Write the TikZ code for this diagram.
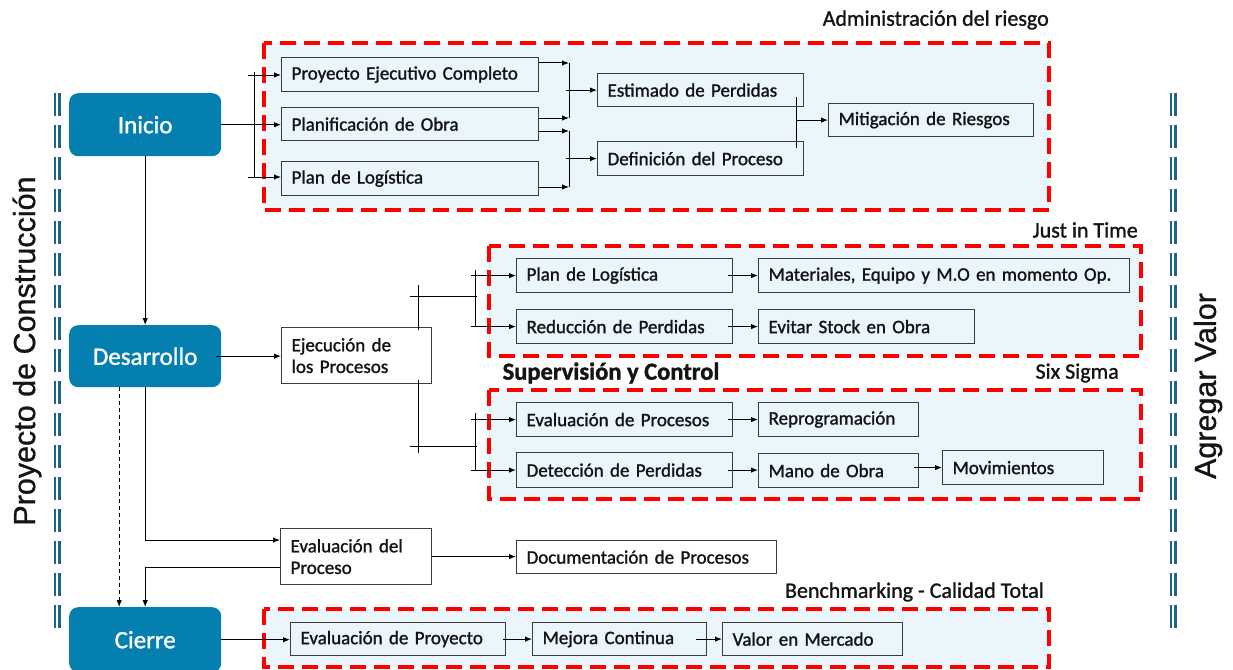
\documentclass[tikz,border=0pt]{standalone}
\usepackage{fontspec}
\setmainfont{Carlito}[FakeBold=1.3]
\newfontfamily\arialf{Liberation Sans}[FakeBold=0.9]
\usetikzlibrary{arrows.meta}

\definecolor{phase}{RGB}{4,127,175}
\definecolor{zone}{RGB}{234,246,252}
\definecolor{edge}{RGB}{60,60,60}
\definecolor{ink}{RGB}{20,20,20}
\definecolor{rail}{RGB}{30,100,135}

% box from (x1,y1) to (x2,y2), text set flush left
\newcommand{\boxat}[7]{%
  \pgfmathsetmacro\bw{#4-#2}%
  \pgfmathsetmacro\bh{#5-#3}%
  \pgfmathsetmacro\tw{#4-#2-20}%
  \node[#1, anchor=north west, minimum width=\bw pt, minimum height=\bh pt,
        text width=\tw pt] (#6) at (#2,#3) {#7};}

\tikzset{
  bx/.style={draw=edge, line width=1.2pt, inner xsep=10pt, inner ysep=2pt,
             align=left, font=\fontsize{19}{21.6}\selectfont, text=ink},
  wbx/.style={bx, fill=white},
  phasebox/.style={fill=phase, rounded corners=9pt, text=white,
             font=\fontsize{25}{28}\selectfont, inner sep=0pt},
  zonebox/.style={draw=red, fill=zone, line width=4pt, dash pattern=on 16pt off 8pt},
  lbl/.style={inner sep=0pt, text=ink, font=\fontsize{22}{26}\selectfont},
  conn/.style={draw=black, line width=1pt},
  arr/.style={conn, -{Latex[length=7pt,width=5.5pt]}},
  railline/.style={draw=rail, dash pattern=on 23pt off 9pt},
  sidetext/.style={rotate=90, inner sep=0pt, text=ink,
             font=\arialf\fontsize{30.5}{34}\selectfont},
}

\begin{document}
\begin{tikzpicture}[x=1pt,y=-1pt]
\useasboundingbox (0,0) rectangle (1233,669);
\clip (0,0) rectangle (1233,669);

% dashed side rails
\draw[railline, line width=2.2pt] (55,93) -- (55,632);
\draw[railline, line width=3pt] (59.5,93) -- (59.5,632);
\draw[railline, line width=2.2pt] (1171,93) -- (1171,632);
\draw[railline, line width=3pt] (1175.5,93) -- (1175.5,632);

\node[sidetext] (tPro) at (27,351) {Proyecto de Construcción};
\node[sidetext] (tAgr) at (1208,386) {Agregar Valor};

% red dashed zones
\draw[zonebox] (264,43) rectangle (1049,210);
\draw[zonebox] (489,246) rectangle (1141,356);
\draw[zonebox] (489,390) rectangle (1141,499);
\draw[zonebox] (264,609) rectangle (1049,667);

\node[lbl, anchor=east] (tAdm) at (1049,20) {Administración del riesgo};
\node[lbl, anchor=east] (tJit) at (1138,230) {Just in Time};
\node[lbl, anchor=east] (tSix) at (1119,373) {Six Sigma};
\node[lbl, anchor=east] (tBen) at (1044,592) {Benchmarking - Calidad Total};
\node[inner sep=0pt, text=ink, font=\bfseries\fontsize{24.5}{28}\selectfont]
  (tSup) at (611,373) {Supervisión y Control};

% phases
\node[phasebox, anchor=north west, minimum width=152pt, minimum height=63pt]
  (inicio) at (69,93) {Inicio};
\node[phasebox, anchor=north west, minimum width=152pt, minimum height=62pt]
  (desarrollo) at (69,325) {Desarrollo};
\node[phasebox, anchor=north west, minimum width=152pt, minimum height=65pt]
  (cierre) at (69,607) {Cierre};

% risk administration
\boxat{bx}{281}{57}{538}{91}{pec}{Proyecto Ejecutivo Completo}
\boxat{bx}{281}{107}{538}{140}{plan}{Planificación de Obra}
\boxat{bx}{281}{161}{538}{195}{plog}{Plan de Logística}
\boxat{bx}{597}{73}{803}{106}{est}{Estimado de Perdidas}
\boxat{bx}{597}{141}{803}{175}{defp}{Definición del Proceso}
\boxat{bx}{828}{103}{1033}{136}{mit}{Mitigación de Riesgos}

% just in time
\boxat{bx}{516}{258}{732}{292}{jpl}{Plan de Logística}
\boxat{bx}{516}{309}{732}{343}{jred}{Reducción de Perdidas}
\boxat{bx}{758}{258}{1129}{292}{jmat}{Materiales, Equipo y M.O en momento Op.}
\boxat{bx}{758}{309}{974}{343}{jevi}{Evitar Stock en Obra}

% six sigma
\boxat{bx}{516}{402}{732}{436}{sev}{Evaluación de Procesos}
\boxat{bx}{516}{452}{732}{487}{sdet}{Detección de Perdidas}
\boxat{bx}{758}{402}{918}{436}{srep}{Reprogramación}
\boxat{bx}{758}{453}{918}{487}{smano}{Mano de Obra}
\boxat{bx}{942}{450}{1103}{484}{smov}{Movimientos}

% execution and evaluation
\boxat{wbx}{281}{327}{431}{383}{ejec}{Ejecución de\\los Procesos}
\boxat{wbx}{280}{528}{431}{584}{evp}{Evaluación del\\Proceso}
\boxat{wbx}{516}{540}{776}{573}{doc}{Documentación de Procesos}

% benchmarking
\boxat{bx}{290}{622}{505}{655}{bevp}{Evaluación de Proyecto}
\boxat{bx}{532}{622}{706}{655}{bmej}{Mejora Continua}
\boxat{bx}{722}{622}{902}{655}{bval}{Valor en Mercado}

% ---- connectors: risk administration
\draw[arr] (inicio.east) -- (inicio.east -| plan.west);
\coordinate (b1t) at (254,72);
\coordinate (b1b) at (254,177);
\draw[conn] (b1t) -- (b1b);
\coordinate (s1) at (248,75);
\coordinate (s3) at (248,177);
\draw[arr] (s1) -- (s1 -| pec.west);
\draw[arr] (s3) -- (s3 -| plog.west);

\coordinate (uA) at (569,63);
\coordinate (uB) at (569,118);
\draw[conn] (uA) -- (uB);
\draw[arr] (pec.east |- uA) -- (uA);
\draw[arr] (plan.east |- uB) -- (uB);
\draw[arr] (566,0 |- est.west) -- (est.west);

\coordinate (lA) at (569,131);
\coordinate (lB) at (569,187);
\draw[conn] (lA) -- (lB);
\draw[arr] (plan.east |- lA) -- (lA);
\draw[arr] (plog.east |- lB) -- (lB);
\draw[arr] (566,0 |- defp.west) -- (defp.west);

\coordinate (mT) at (796,97);
\coordinate (mB) at (796,148);
\draw[conn] (mT) -- (mB);
\draw[arr] (mT |- mit.west) -- (mit.west);

% ---- connectors: development
\draw[arr] (inicio.south) -- (desarrollo.north);
\draw[arr] ([xshift=-5pt]desarrollo.east) -- (desarrollo.east -| ejec.west);

\coordinate (tu1) at (418,285);
\coordinate (tu2) at (418,330);
\draw[conn] (tu1) -- (tu2);
\draw[conn] (410,296) -- (477,296);
\coordinate (bu1) at (475,270);
\coordinate (bu2) at (475,327);
\draw[conn] (bu1) -- (bu2);
\draw[arr] (471,0 |- jpl.west) -- (jpl.west);
\draw[arr] (471,0 |- jred.west) -- (jred.west);

\coordinate (tl1) at (418,380);
\coordinate (tl2) at (418,453);
\draw[conn] (tl1) -- (tl2);
\draw[conn] (410,446) -- (477,446);
\coordinate (bl1) at (475,413);
\coordinate (bl2) at (475,470);
\draw[conn] (bl1) -- (bl2);
\draw[arr] (471,0 |- sev.west) -- (sev.west);
\draw[arr] (471,0 |- sdet.west) -- (sdet.west);

\draw[arr] ([xshift=-5pt]jpl.east) -- (jmat.west);
\draw[arr] ([xshift=-5pt]jred.east) -- (jevi.west);
\draw[arr] ([xshift=-5pt]sev.east) -- (srep.west);
\draw[arr] ([xshift=-5pt]sdet.east) -- (sdet.east -| smano.west);
\draw[arr] ([xshift=-5pt]smano.east |- smov.west) -- (smov.west);

% ---- connectors: evaluation and closing
\coordinate (evIn) at (280,540);
\coordinate (evOut) at (280,567);
\draw[arr] (desarrollo.south) |- (evIn);
\draw[arr] (evOut) -| (cierre.north);
\draw[arr, dash pattern=on 4pt off 3pt] ([xshift=-26pt]desarrollo.south) -- ([xshift=-26pt]cierre.north);
\draw[arr] (evp.east) -- (evp.east -| doc.west);

\draw[arr] (cierre.east) -- (cierre.east -| bevp.west);
\draw[arr] ([xshift=-3pt]bevp.east) -- (bmej.west);
\draw[arr] ([xshift=-11pt]bmej.east) -- (bval.west);
\end{tikzpicture}
\end{document}
